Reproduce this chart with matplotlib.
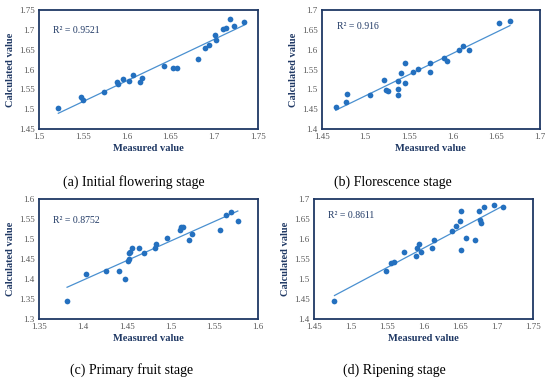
import numpy as np
import matplotlib
matplotlib.use('Agg')
import matplotlib.pyplot as plt

# measured / calculated values
meas_a = [1.522, 1.548, 1.550, 1.574, 1.589, 1.590, 1.596, 1.603, 1.607, 1.615, 1.618, 1.643,
          1.653, 1.657, 1.681, 1.690, 1.694, 1.7005, 1.7025, 1.710, 1.714, 1.718, 1.723, 1.734]
calc_a = [1.503, 1.532, 1.522, 1.544, 1.569, 1.563, 1.577, 1.570, 1.585, 1.568, 1.578, 1.608,
          1.603, 1.605, 1.626, 1.655, 1.662, 1.686, 1.674, 1.702, 1.705, 1.727, 1.710, 1.719]

meas_b = [1.466, 1.478, 1.479, 1.505, 1.521, 1.524, 1.526, 1.537, 1.538, 1.538, 1.541, 1.546,
          1.546, 1.555, 1.560, 1.574, 1.574, 1.590, 1.594, 1.608, 1.612, 1.619, 1.654, 1.666]
calc_b = [1.455, 1.467, 1.489, 1.486, 1.523, 1.498, 1.496, 1.487, 1.500, 1.521, 1.542, 1.515,
          1.567, 1.543, 1.551, 1.543, 1.566, 1.578, 1.571, 1.600, 1.609, 1.600, 1.667, 1.673]

meas_c = [1.382, 1.404, 1.427, 1.441, 1.448, 1.452, 1.453, 1.453, 1.454, 1.456, 1.464, 1.470,
          1.482, 1.484, 1.496, 1.511, 1.512, 1.514, 1.521, 1.525, 1.557, 1.564, 1.569, 1.577]
calc_c = [1.346, 1.413, 1.419, 1.420, 1.401, 1.446, 1.465, 1.451, 1.467, 1.478, 1.477, 1.465,
          1.478, 1.489, 1.502, 1.522, 1.531, 1.530, 1.497, 1.513, 1.522, 1.560, 1.567, 1.545]

meas_d = [1.478, 1.548, 1.555, 1.560, 1.573, 1.590, 1.591, 1.594, 1.597, 1.612, 1.614, 1.639,
          1.644, 1.650, 1.651, 1.651, 1.658, 1.671, 1.676, 1.677, 1.679, 1.683, 1.696, 1.709]
calc_d = [1.446, 1.521, 1.540, 1.542, 1.568, 1.557, 1.578, 1.588, 1.569, 1.579, 1.598, 1.620,
          1.634, 1.646, 1.671, 1.574, 1.602, 1.598, 1.670, 1.647, 1.640, 1.681, 1.685, 1.681]

r2_labels = ['R\u00b2 = 0.9521', 'R\u00b2 = 0.916', 'R\u00b2 = 0.8752', 'R\u00b2 = 0.8611']
captions = ['(a) Initial flowering stage', '(b) Florescence stage',
            '(c) Primary fruit stage', '(d) Ripening stage']
xlims = [(1.5, 1.75), (1.45, 1.7), (1.35, 1.6), (1.45, 1.75)]
ylims = [(1.45, 1.75), (1.4, 1.7), (1.3, 1.6), (1.4, 1.7)]

plt.rcParams['font.family'] = ['Liberation Serif', 'DejaVu Serif']

navy = '#1f3864'
pt_col = '#2470bf'
line_col = '#4a90d0'
tick_col = '#595959'

fig = plt.figure(figsize=(5.5, 3.83), dpi=100)
positions = [[0.071, 0.663, 0.398, 0.311], [0.585, 0.663, 0.396, 0.311],
             [0.071, 0.167, 0.398, 0.313], [0.571, 0.167, 0.398, 0.313]]
r2_pos = [(0.065, 0.83), (0.07, 0.86), (0.065, 0.82), (0.065, 0.86)]
cap_pos = [(134, 182), (393, 182), (132, 370), (394, 370)]

data = [(meas_a, calc_a), (meas_b, calc_b), (meas_c, calc_c), (meas_d, calc_d)]

for i, (mx, cy) in enumerate(data):
    ax = fig.add_axes(positions[i])
    mx = np.array(mx)
    cy = np.array(cy)
    ax.scatter(mx, cy, s=17, color=pt_col, zorder=3, linewidths=0)
    # linear trendline over data range
    k, b = np.polyfit(mx, cy, 1)
    xs = np.array([mx.min(), mx.max()])
    ax.plot(xs, k * xs + b, color=line_col, lw=0.9, zorder=2)

    ax.set_xlim(*xlims[i])
    ax.set_ylim(*ylims[i])
    ax.set_xticks(np.arange(xlims[i][0], xlims[i][1] + 0.001, 0.05))
    ax.set_yticks(np.arange(ylims[i][0], ylims[i][1] + 0.001, 0.05))
    ax.set_xticklabels([f'{v:.2f}'.rstrip('0').rstrip('.') for v in ax.get_xticks()])
    ax.set_yticklabels([f'{v:.2f}'.rstrip('0').rstrip('.') for v in ax.get_yticks()])
    ax.tick_params(length=0, labelsize=6.5, colors=tick_col, pad=3)
    for sp in ax.spines.values():
        sp.set_color(navy)
        sp.set_linewidth(1.3)
    ax.set_xlabel('Measured value', fontsize=7.5, fontweight='bold', color=navy, labelpad=2)
    ax.set_ylabel('Calculated value', fontsize=7.5, fontweight='bold', color=navy, labelpad=3)
    ax.text(r2_pos[i][0], r2_pos[i][1], r2_labels[i], transform=ax.transAxes,
            fontsize=7, color=navy, va='center', ha='left')

    cx, cyy = cap_pos[i]
    fig.text(cx / 550, 1 - cyy / 383, captions[i], fontsize=10, color='black',
             ha='center', va='center')

fig.savefig('out.png', dpi=100)
